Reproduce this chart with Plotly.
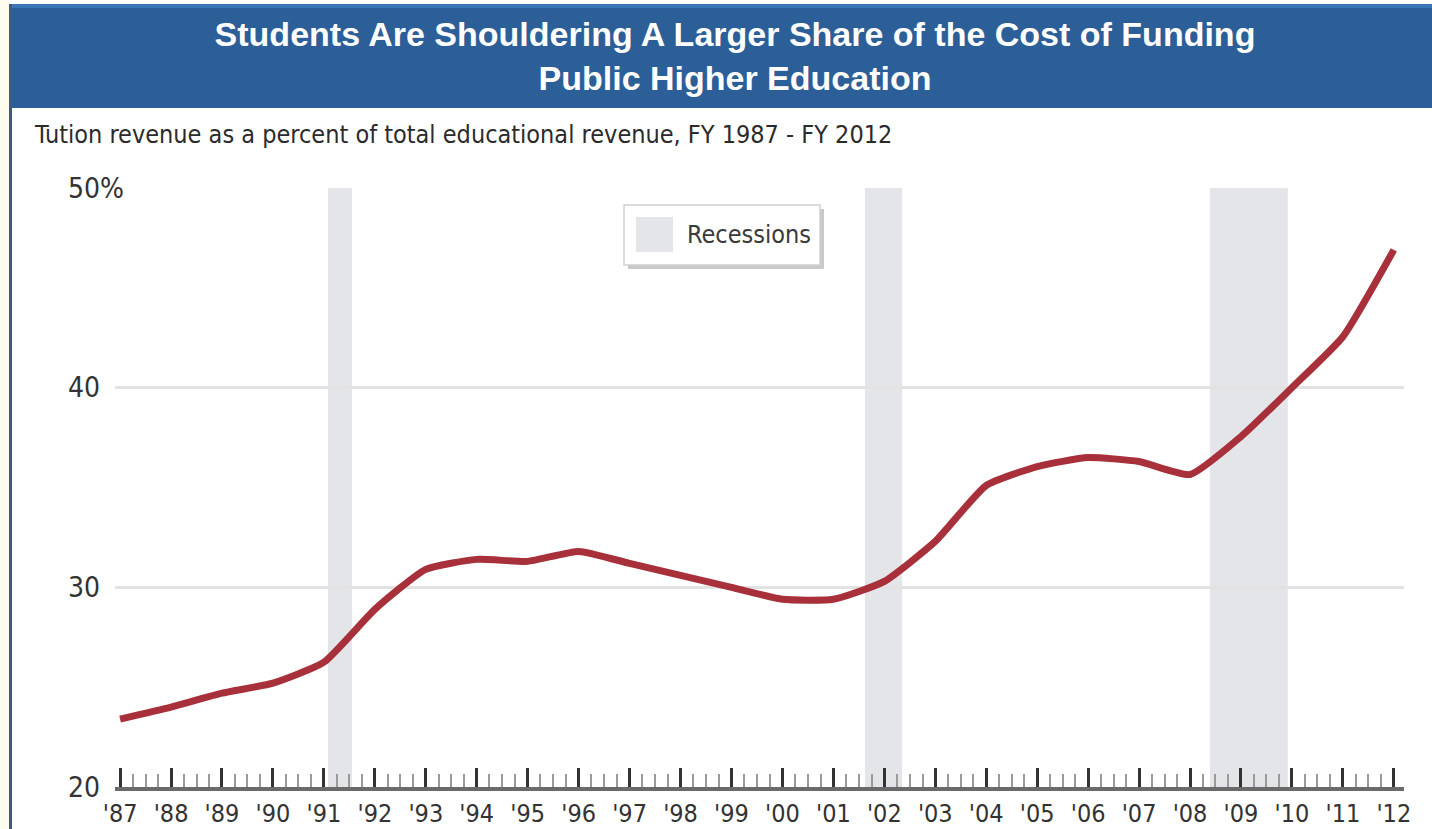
import plotly.graph_objects as go

# ---- data ----
years = list(range(1987, 2013))
tuition_share = [23.4, 24.0, 24.7, 25.2, 26.25, 28.9, 30.9, 31.4, 31.3, 31.8,
                 31.2, 30.6, 30.0, 29.4, 29.4, 30.3, 32.3, 35.1, 36.05, 36.5,
                 36.3, 35.65, 37.55, 40.0, 42.55, 46.9]
year_labels = ["'" + str(y)[2:] for y in years]
recession_start = [1991.08, 2001.62, 2008.39]
recession_end = [1991.55, 2002.35, 2009.92]
y_ticks = [20, 30, 40, 50]
y_tick_labels = ["20", "30", "40", "50%"]

TITLE = "Students Are Shouldering A Larger Share of the Cost of Funding<br>Public Higher Education"
SUBTITLE = "Tution revenue as a percent of total educational revenue, FY 1987 - FY 2012"

# ---- layout geometry (pixels) ----
W, H = 1432, 829
L, R, T, B = 115, 28, 188, 42
PW = W - L - R
PH = H - T - B


def px(x):
    return (x - L) / PW


def py(y):
    return (H - B - y) / PH


NARROW = "DejaVu Sans Condensed, Liberation Sans Narrow, sans-serif"

fig = go.Figure()
fig.add_trace(go.Scatter(
    x=years, y=tuition_share, mode="lines",
    line=dict(color="#a7303a", width=7, shape="spline", smoothing=0.5),
    showlegend=False, hoverinfo="x+y"))

shapes = []
# recession bands
for s, e in zip(recession_start, recession_end):
    shapes.append(dict(type="rect", xref="x", yref="y", x0=s, x1=e, y0=20, y1=50,
                       fillcolor="#e4e5e9", line_width=0, layer="below"))
# header band
shapes.append(dict(type="rect", xref="paper", yref="paper", x0=px(8), x1=px(W + 5),
                   y0=py(108), y1=py(5), fillcolor="#2c5e98", line_width=0, layer="below"))
shapes.append(dict(type="rect", xref="paper", yref="paper", x0=px(8), x1=px(W + 5),
                   y0=py(8), y1=py(4), fillcolor="#3a76b6", line_width=0, layer="below"))
# left cream strip and border line
shapes.append(dict(type="rect", xref="paper", yref="paper", x0=px(-2), x1=px(9),
                   y0=py(H + 2), y1=py(-2), fillcolor="#fdfbee", line_width=0, layer="below"))
shapes.append(dict(type="rect", xref="paper", yref="paper", x0=px(9), x1=px(12),
                   y0=py(H + 2), y1=py(4), fillcolor="#3d5c82", line_width=0, layer="below"))
# legend box shadow + box + swatch
shapes.append(dict(type="rect", xref="paper", yref="paper", x0=px(628), x1=px(824),
                   y0=py(269), y1=py(209), fillcolor="#c9c9c9", line_width=0, layer="above"))
shapes.append(dict(type="rect", xref="paper", yref="paper", x0=px(624), x1=px(820),
                   y0=py(265), y1=py(205), fillcolor="#ffffff",
                   line=dict(color="#cfcfcf", width=1.5), layer="above"))
shapes.append(dict(type="rect", xref="paper", yref="paper", x0=px(636), x1=px(673),
                   y0=py(252), y1=py(217), fillcolor="#e4e5e9", line_width=0, layer="above"))

annotations = [
    dict(text=SUBTITLE, xref="paper", yref="paper", x=px(32), y=py(135),
         xanchor="left", yanchor="middle", showarrow=False,
         font=dict(family=NARROW, size=25, color="#2b2b2b")),
    dict(text="Recessions", xref="paper", yref="paper", x=px(685), y=py(234),
         xanchor="left", yanchor="middle", showarrow=False,
         font=dict(family=NARROW, size=25, color="#3a3a3a")),
]
for v, t in zip(y_ticks, y_tick_labels):
    annotations.append(dict(text=t, xref="paper", yref="y", x=px(66), y=v,
                            xanchor="left", yanchor="middle", showarrow=False,
                            font=dict(family=NARROW, size=28, color="#333333")))

fig.update_layout(
    width=W, height=H,
    margin=dict(l=L, r=R, t=T, b=B, pad=0, autoexpand=False),
    paper_bgcolor="white", plot_bgcolor="white",
    title=dict(text=TITLE, x=px(735), xref="paper", xanchor="center",
               y=1 - 46 / H, yref="container", yanchor="middle",
               font=dict(family="Liberation Sans, Arial, sans-serif", size=34,
                         color="white", weight="bold")),
    shapes=shapes, annotations=annotations,
    xaxis=dict(range=[1986.9, 2012.2], tickvals=years, ticktext=year_labels,
               ticks="inside", ticklen=19, tickwidth=2.5, tickcolor="#333333",
               showline=True, linecolor="#6a6a6a", linewidth=4,
               showgrid=False, zeroline=False, ticklabelstandoff=1,
               automargin=False,
               tickfont=dict(family=NARROW, size=25, color="#333333"),
               minor=dict(dtick=0.25, tick0=1987, ticks="inside", ticklen=13,
                          tickwidth=2, tickcolor="#9a9a9a", showgrid=False),
               fixedrange=True),
    yaxis=dict(range=[20, 50], tickvals=[30, 40, 50], showticklabels=False,
               showgrid=True, gridcolor="#e2e2e2", gridwidth=3, automargin=False,
               zeroline=False, showline=False, ticks="", fixedrange=True),
)

fig.write_html("out.html")
